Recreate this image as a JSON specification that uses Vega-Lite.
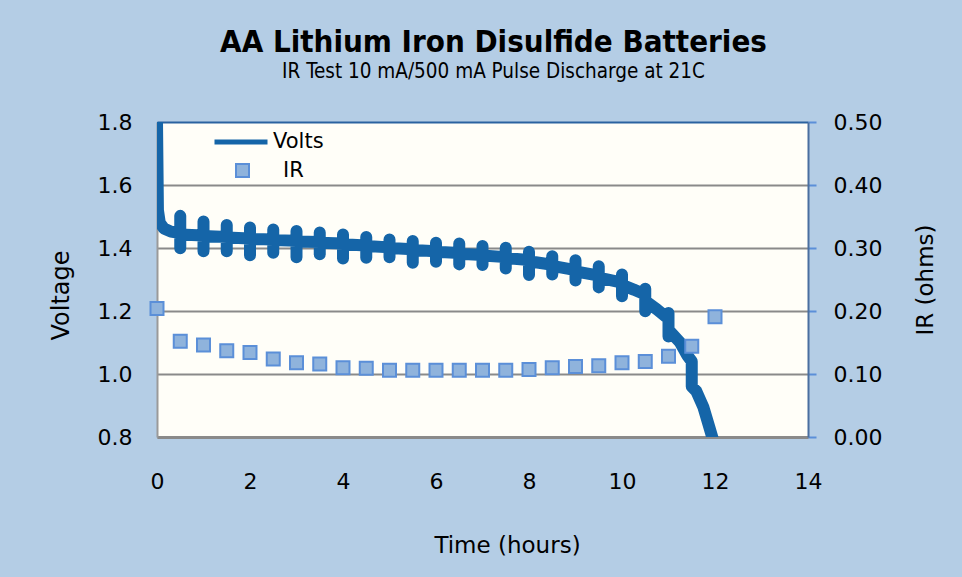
{
  "$schema": "https://vega.github.io/schema/vega-lite/v6.json",
  "width": 651,
  "height": 315,
  "autosize": {"type": "none"},
  "padding": {"left": 157, "top": 122, "right": 154, "bottom": 140},
  "background": "#b4cde5",
  "config": {
    "view": {"fill": "#fffef8", "stroke": null},
    "font": "DejaVu Sans",
    "axis": {"labelColor": "#000", "titleColor": "#000", "titleFontWeight": "normal"}
  },
  "title": {
    "text": "AA Lithium Iron Disulfide Batteries",
    "subtitle": "IR Test 10 mA/500 mA Pulse Discharge  at 21C",
    "font": "DejaVu Sans Condensed",
    "fontSize": 31,
    "fontWeight": "bold",
    "color": "#000",
    "subtitleFont": "DejaVu Sans Condensed",
    "subtitleFontSize": 20.5,
    "subtitleColor": "#000",
    "subtitlePadding": 3,
    "anchor": "middle",
    "frame": "group",
    "dx": 11,
    "offset": 28
  },
  "datasets": {
    "volts": [
      {"i": 0, "t": 0, "v": 1.8},
      {"i": 1, "t": 0.02, "v": 1.52},
      {"i": 2, "t": 0.06, "v": 1.48},
      {"i": 3, "t": 0.15, "v": 1.462},
      {"i": 4, "t": 0.3, "v": 1.452},
      {"i": 5, "t": 0.5, "v": 1.447}, {"i": 6, "t": 0.5, "v": 1.502}, {"i": 7, "t": 0.5, "v": 1.399}, {"i": 8, "t": 0.5, "v": 1.443},
      {"i": 9, "t": 1.0, "v": 1.44}, {"i": 10, "t": 1.0, "v": 1.484}, {"i": 11, "t": 1.0, "v": 1.39}, {"i": 12, "t": 1.0, "v": 1.438},
      {"i": 13, "t": 1.5, "v": 1.435}, {"i": 14, "t": 1.5, "v": 1.473}, {"i": 15, "t": 1.5, "v": 1.39}, {"i": 16, "t": 1.5, "v": 1.433},
      {"i": 17, "t": 2.0, "v": 1.43}, {"i": 18, "t": 2.0, "v": 1.465}, {"i": 19, "t": 2.0, "v": 1.377}, {"i": 20, "t": 2.0, "v": 1.429},
      {"i": 21, "t": 2.5, "v": 1.427}, {"i": 22, "t": 2.5, "v": 1.459}, {"i": 23, "t": 2.5, "v": 1.385}, {"i": 24, "t": 2.5, "v": 1.425},
      {"i": 25, "t": 3.0, "v": 1.423}, {"i": 26, "t": 3.0, "v": 1.454}, {"i": 27, "t": 3.0, "v": 1.371}, {"i": 28, "t": 3.0, "v": 1.421},
      {"i": 29, "t": 3.5, "v": 1.419}, {"i": 30, "t": 3.5, "v": 1.449}, {"i": 31, "t": 3.5, "v": 1.38}, {"i": 32, "t": 3.5, "v": 1.417},
      {"i": 33, "t": 4.0, "v": 1.414}, {"i": 34, "t": 4.0, "v": 1.443}, {"i": 35, "t": 4.0, "v": 1.367}, {"i": 36, "t": 4.0, "v": 1.412},
      {"i": 37, "t": 4.5, "v": 1.408}, {"i": 38, "t": 4.5, "v": 1.435}, {"i": 39, "t": 4.5, "v": 1.369}, {"i": 40, "t": 4.5, "v": 1.406},
      {"i": 41, "t": 5.0, "v": 1.402}, {"i": 42, "t": 5.0, "v": 1.427}, {"i": 43, "t": 5.0, "v": 1.371}, {"i": 44, "t": 5.0, "v": 1.4},
      {"i": 45, "t": 5.5, "v": 1.396}, {"i": 46, "t": 5.5, "v": 1.422}, {"i": 47, "t": 5.5, "v": 1.353}, {"i": 48, "t": 5.5, "v": 1.394},
      {"i": 49, "t": 6.0, "v": 1.39}, {"i": 50, "t": 6.0, "v": 1.417}, {"i": 51, "t": 6.0, "v": 1.356}, {"i": 52, "t": 6.0, "v": 1.388},
      {"i": 53, "t": 6.5, "v": 1.384}, {"i": 54, "t": 6.5, "v": 1.414}, {"i": 55, "t": 6.5, "v": 1.348}, {"i": 56, "t": 6.5, "v": 1.382},
      {"i": 57, "t": 7.0, "v": 1.378}, {"i": 58, "t": 7.0, "v": 1.406}, {"i": 59, "t": 7.0, "v": 1.346}, {"i": 60, "t": 7.0, "v": 1.376},
      {"i": 61, "t": 7.5, "v": 1.371}, {"i": 62, "t": 7.5, "v": 1.401}, {"i": 63, "t": 7.5, "v": 1.335}, {"i": 64, "t": 7.5, "v": 1.368},
      {"i": 65, "t": 8.0, "v": 1.362}, {"i": 66, "t": 8.0, "v": 1.388}, {"i": 67, "t": 8.0, "v": 1.314}, {"i": 68, "t": 8.0, "v": 1.358},
      {"i": 69, "t": 8.5, "v": 1.347}, {"i": 70, "t": 8.5, "v": 1.374}, {"i": 71, "t": 8.5, "v": 1.316}, {"i": 72, "t": 8.5, "v": 1.343},
      {"i": 73, "t": 9.0, "v": 1.33}, {"i": 74, "t": 9.0, "v": 1.361}, {"i": 75, "t": 9.0, "v": 1.297}, {"i": 76, "t": 9.0, "v": 1.326},
      {"i": 77, "t": 9.5, "v": 1.312}, {"i": 78, "t": 9.5, "v": 1.342}, {"i": 79, "t": 9.5, "v": 1.275}, {"i": 80, "t": 9.5, "v": 1.306},
      {"i": 81, "t": 10.0, "v": 1.29}, {"i": 82, "t": 10.0, "v": 1.316}, {"i": 83, "t": 10.0, "v": 1.247}, {"i": 84, "t": 10.0, "v": 1.283},
      {"i": 85, "t": 10.25, "v": 1.268},
      {"i": 86, "t": 10.5, "v": 1.252}, {"i": 87, "t": 10.5, "v": 1.271}, {"i": 88, "t": 10.5, "v": 1.199}, {"i": 89, "t": 10.5, "v": 1.232},
      {"i": 90, "t": 10.75, "v": 1.205},
      {"i": 91, "t": 11.0, "v": 1.175}, {"i": 92, "t": 11.0, "v": 1.194}, {"i": 93, "t": 11.0, "v": 1.119}, {"i": 94, "t": 11.0, "v": 1.14},
      {"i": 95, "t": 11.25, "v": 1.1},
      {"i": 96, "t": 11.4, "v": 1.06},
      {"i": 97, "t": 11.5, "v": 1.04}, {"i": 98, "t": 11.5, "v": 0.96},
      {"i": 99, "t": 11.6, "v": 0.945},
      {"i": 100, "t": 11.75, "v": 0.895},
      {"i": 101, "t": 11.88, "v": 0.83},
      {"i": 102, "t": 11.96, "v": 0.79}
    ],
    "ir": [
      {"t": 0, "ir": 0.204}, {"t": 0.5, "ir": 0.152}, {"t": 1.0, "ir": 0.146}, {"t": 1.5, "ir": 0.137},
      {"t": 2.0, "ir": 0.134}, {"t": 2.5, "ir": 0.124}, {"t": 3.0, "ir": 0.118}, {"t": 3.5, "ir": 0.116},
      {"t": 4.0, "ir": 0.11}, {"t": 4.5, "ir": 0.109}, {"t": 5.0, "ir": 0.106}, {"t": 5.5, "ir": 0.106},
      {"t": 6.0, "ir": 0.106}, {"t": 6.5, "ir": 0.106}, {"t": 7.0, "ir": 0.106}, {"t": 7.5, "ir": 0.106},
      {"t": 8.0, "ir": 0.107}, {"t": 8.5, "ir": 0.11}, {"t": 9.0, "ir": 0.112}, {"t": 9.5, "ir": 0.113},
      {"t": 10.0, "ir": 0.118}, {"t": 10.5, "ir": 0.12}, {"t": 11.0, "ir": 0.128}, {"t": 11.5, "ir": 0.144},
      {"t": 12.0, "ir": 0.191}
    ]
  },
  "layer": [
    {
      "data": {"name": "volts"},
      "mark": {"type": "line", "strokeWidth": 12, "strokeJoin": "round", "strokeCap": "butt", "clip": true},
      "encoding": {
        "x": {
          "field": "t", "type": "quantitative",
          "scale": {"domain": [0, 14], "nice": false},
          "axis": {
            "title": "Time (hours)", "values": [0, 2, 4, 6, 8, 10, 12, 14],
            "ticks": false, "tickSize": 0, "grid": false, "labelFlush": false,
            "domain": true, "domainColor": "#8a8a8a", "domainWidth": 3,
            "labelFontSize": 22, "labelPadding": 34, "labelFont": "DejaVu Sans",
            "titleFontSize": 23, "titleFont": "DejaVu Sans", "titlePadding": 42, "titleX": 350
          }
        },
        "y": {
          "field": "v", "type": "quantitative",
          "scale": {"domain": [0.8, 1.8], "nice": false},
          "axis": {
            "title": "Voltage", "orient": "left", "values": [0.8, 1.0, 1.2, 1.4, 1.6, 1.8], "format": ".1f",
            "ticks": false, "tickSize": 0,
            "grid": true, "gridWidth": 2,
            "gridColor": {"condition": {"test": "datum.value >= 1.79", "value": "#2a62a0"}, "value": "#8a8a8a"},
            "domain": true, "domainColor": "#9a9a9a", "domainWidth": 2,
            "labelFontSize": 22, "labelPadding": 25, "labelFont": "DejaVu Sans",
            "titleFontSize": 24, "titleFont": "DejaVu Sans", "titlePadding": 24, "titleY": 173
          }
        },
        "order": {"field": "i", "type": "quantitative"},
        "stroke": {
          "datum": "Volts", "type": "nominal",
          "scale": {"range": ["#1565a8"]},
          "legend": {
            "title": null, "orient": "none", "legendX": 55, "legendY": -9,
            "symbolType": "stroke", "symbolSize": 2809, "symbolStrokeWidth": 5,
            "labelFontSize": 21, "labelFont": "DejaVu Sans", "labelOffset": 3, "labelColor": "#000", "padding": 0
          }
        }
      }
    },
    {
      "data": {"name": "ir"},
      "mark": {"type": "point", "shape": "square", "filled": true, "size": 169, "stroke": "#5b8fd8", "strokeWidth": 2, "opacity": 1},
      "encoding": {
        "x": {"field": "t", "type": "quantitative"},
        "y": {
          "field": "ir", "type": "quantitative",
          "scale": {"domain": [0, 0.5], "nice": false},
          "axis": {
            "title": "IR (ohms)", "orient": "right", "values": [0, 0.1, 0.2, 0.3, 0.4, 0.5], "format": ".2f",
            "ticks": true, "tickSize": 8, "tickColor": "#5b8fd8", "tickWidth": 2,
            "grid": false,
            "domain": true, "domainColor": "#4a6fa0", "domainWidth": 2,
            "labelFontSize": 22, "labelPadding": 17, "labelFont": "DejaVu Sans",
            "titleFontSize": 23, "titleFont": "DejaVu Sans", "titlePadding": 56, "titleAngle": 270
          }
        },
        "fill": {
          "datum": "IR", "type": "nominal",
          "scale": {"range": ["#8fb3dc"]},
          "legend": {
            "title": null, "orient": "none", "legendX": 75, "legendY": 38,
            "symbolType": "square", "symbolSize": 169, "symbolStrokeColor": "#5b8fd8", "symbolStrokeWidth": 2,
            "labelFontSize": 21, "labelFont": "DejaVu Sans", "labelOffset": 30, "labelColor": "#000", "padding": 0
          }
        }
      }
    }
  ],
  "resolve": {"scale": {"y": "independent"}}
}
